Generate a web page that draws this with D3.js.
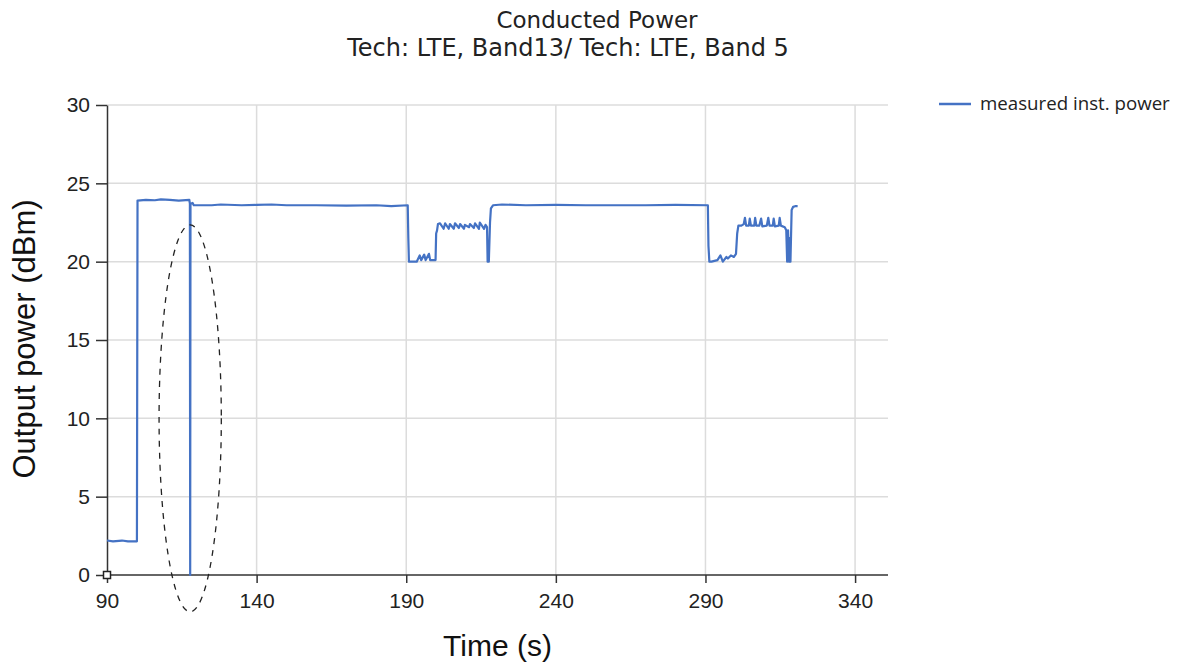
<!DOCTYPE html>
<html>
<head>
<meta charset="utf-8">
<script src="https://cdn.jsdelivr.net/npm/d3@7"></script>
<style>
    body { margin: 0; background: #fff; }
    svg { display: block; }
</style>
</head>
<body>
<div id="chart"></div>
<script>
// values
const timeS = [
    90, 92, 95, 97, 100, 100.2, 103, 106, 108, 111, 114, 117.5, 117.7, 117.8, 117.9,
    118.6, 119, 125, 128, 135, 140, 145, 150, 160, 170, 180, 185, 190.5,
    190.7, 190.9, 193.5, 194.5, 195, 196, 196.5, 197.6, 198, 199.8, 200, 200.3, 200.6,
    201.3, 202.5, 203, 204.2, 204.6, 205.9, 206.3, 207.6, 208, 209.3, 209.6, 211, 211.3,
    212.6, 213, 214.3, 214.6, 216, 216.5, 217, 217.2, 217.6, 218, 218.3, 219, 222,
    230, 240, 250, 260, 270, 280, 290.8,
    291, 291.3, 292, 294, 295, 295.8, 297, 297.5, 298.5, 299.5, 300.2, 300.6, 301,
    302, 302.8, 303.2, 303.6, 304.5, 304.8, 305.2, 306.3, 306.6, 307, 308, 308.6, 309,
    310.5, 311, 311.4, 312.5, 312.8, 313.2, 314.5, 314.8, 315.2, 316.5, 317, 317.3,
    317.6, 317.9, 318.2, 318.4, 318.8, 319.3, 320.2, 320.8
];
const powerDbm = [
    2.2, 2.15, 2.2, 2.15, 2.15, 23.9, 23.95, 23.92, 23.98, 23.95, 23.9, 23.95, 23.7, 0, 23.7,
    23.75, 23.6, 23.6, 23.65, 23.6, 23.62, 23.65, 23.6, 23.6, 23.58, 23.6, 23.55, 23.6,
    21.5, 20.0, 20.0, 20.4, 20.1, 20.45, 20.1, 20.5, 20.1, 20.1, 21.8, 22.0, 22.4,
    22.45, 22.1, 22.45, 22.1, 22.4, 22.1, 22.45, 22.15, 22.4, 22.1, 22.35, 22.2, 22.4,
    22.15, 22.45, 22.1, 22.5, 22.1, 22.35, 22.2, 20.0, 20.0, 22.5, 23.4, 23.6, 23.65,
    23.6, 23.62, 23.6, 23.6, 23.6, 23.62, 23.6,
    21.0, 20.0, 20.0, 20.1, 20.4, 20.0, 20.3, 20.2, 20.4, 20.3, 20.5, 21.8, 22.3,
    22.3, 22.4, 22.8, 22.3, 22.3, 22.75, 22.3, 22.3, 22.8, 22.3, 22.3, 22.75, 22.25,
    22.3, 22.8, 22.3, 22.3, 22.75, 22.25, 22.3, 22.8, 22.3, 22.2, 22.0, 20.0,
    22.0, 20.0, 21.5, 20.0, 23.3, 23.5, 23.55, 23.55
];
const xTicks = [90, 140, 190, 240, 290, 340];
const yTicks = [0, 5, 10, 15, 20, 25, 30];
const titleLines = ["Conducted Power", "Tech: LTE, Band13/ Tech: LTE, Band 5"];
const seriesName = "measured inst. power";
// dashed ellipse around the dropout, in data units
const markEllipse = { cx: 117.8, cy: 10, x0: 107.6, x1: 128.4, y0: -2.35, y1: 22.35 };

const width = 1184, height = 665;
const plot = { left: 107, right: 888, top: 105, bottom: 575 };
const blue = "#4472c4";
const axisColor = "#333";

const svg = d3.select("#chart").append("svg")
    .attr("width", width)
    .attr("height", height);

const x = d3.scaleLinear().domain([90, 351]).range([plot.left, plot.right]);
const y = d3.scaleLinear().domain([0, 30]).range([plot.bottom, plot.top]);

// grid
svg.append("g")
    .selectAll("line")
    .data(yTicks.filter((d) => d > 0))
    .join("line")
    .attr("x1", plot.left).attr("x2", plot.right)
    .attr("y1", (d) => y(d)).attr("y2", (d) => y(d))
    .attr("stroke", "#dcdcdc").attr("stroke-width", 1.5);

svg.append("g")
    .selectAll("line")
    .data(xTicks.filter((d) => d > 90))
    .join("line")
    .attr("x1", (d) => x(d)).attr("x2", (d) => x(d))
    .attr("y1", plot.top).attr("y2", plot.bottom)
    .attr("stroke", "#dcdcdc").attr("stroke-width", 1.5);

// axes
const xAxis = svg.append("g")
    .attr("transform", `translate(0,${plot.bottom})`)
    .call(d3.axisBottom(x).tickValues(xTicks).tickSize(8).tickSizeOuter(0).tickPadding(10));
const yAxis = svg.append("g")
    .attr("transform", `translate(${plot.left},0)`)
    .call(d3.axisLeft(y).tickValues(yTicks).tickSize(11).tickSizeOuter(0).tickPadding(6));

[xAxis, yAxis].forEach((g) => {
    g.select(".domain").attr("stroke", axisColor).attr("stroke-width", 1.5);
    g.selectAll(".tick line").attr("stroke", axisColor).attr("stroke-width", 1.5);
    g.selectAll(".tick text")
        .attr("fill", "#222")
        .style("font-family", "'Liberation Sans Narrow', 'Liberation Sans', Arial, sans-serif")
        .style("font-size", "21px");
});
xAxis.select(".domain").attr("d", `M${plot.left},0H${plot.right}`);

// series
const line = d3.line()
    .x((d, i) => x(timeS[i]))
    .y((d) => y(d));

svg.append("path")
    .datum(powerDbm)
    .attr("fill", "none")
    .attr("stroke", blue)
    .attr("stroke-width", 2.2)
    .attr("stroke-linejoin", "round")
    .attr("d", line);

// origin marker
svg.append("rect")
    .attr("x", x(90) - 3.5).attr("y", y(0) - 3.5)
    .attr("width", 7).attr("height", 7)
    .attr("fill", "#fff").attr("stroke", "#222").attr("stroke-width", 1.5);

// dashed annotation
svg.append("ellipse")
    .attr("cx", x(markEllipse.cx))
    .attr("cy", y(markEllipse.cy))
    .attr("rx", (x(markEllipse.x1) - x(markEllipse.x0)) / 2)
    .attr("ry", (y(markEllipse.y0) - y(markEllipse.y1)) / 2)
    .attr("fill", "none")
    .attr("stroke", "#222")
    .attr("stroke-width", 1.3)
    .attr("stroke-dasharray", "6,6");

// titles
svg.selectAll("text.title")
    .data(titleLines)
    .join("text")
    .attr("class", "title")
    .attr("x", (d, i) => (i === 0 ? 597 : 568))
    .attr("y", (d, i) => 28 + i * 28)
    .attr("text-anchor", "middle")
    .attr("fill", "#222")
    .style("font-family", "'DejaVu Sans', Verdana, sans-serif")
    .style("font-size", (d, i) => (i === 0 ? "23px" : "24px"))
    .text((d) => d);

svg.append("text")
    .attr("x", (plot.left + plot.right) / 2)
    .attr("y", 656)
    .attr("text-anchor", "middle")
    .attr("fill", "#111")
    .style("font-family", "'Liberation Sans', Arial, sans-serif")
    .style("font-size", "30px")
    .text("Time (s)");

svg.append("text")
    .attr("transform", `translate(35,${(plot.top + plot.bottom) / 2 - 1}) rotate(-90)`)
    .attr("text-anchor", "middle")
    .attr("fill", "#111")
    .style("font-family", "'Liberation Sans', Arial, sans-serif")
    .style("font-size", "31px")
    .text("Output power (dBm)");

// legend
const legend = svg.append("g").attr("transform", "translate(939,104)");
legend.append("line")
    .attr("x1", 0).attr("x2", 32)
    .attr("stroke", blue).attr("stroke-width", 2.5);
legend.append("text")
    .attr("x", 41).attr("y", 6)
    .attr("fill", "#222")
    .style("font-family", "'Open Sans', 'Noto Sans', sans-serif")
    .style("font-size", "18.7px")
    .text(seriesName);
</script>
</body>
</html>
